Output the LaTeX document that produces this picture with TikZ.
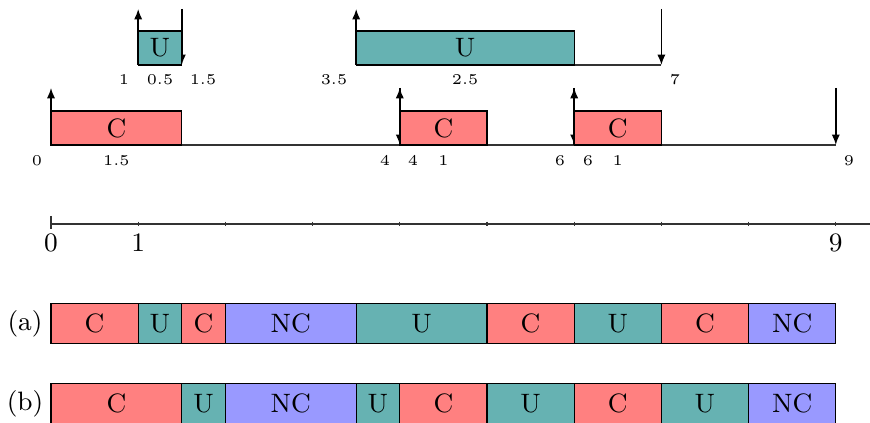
\documentclass[tikz,border=0pt]{standalone}
\usetikzlibrary{arrows.meta}
\definecolor{cC}{RGB}{255,128,128}
\definecolor{cU}{RGB}{102,178,178}
\definecolor{cN}{RGB}{153,153,255}
\begin{document}
\begin{tikzpicture}[x={(1.0023cm,0)}, y={(0,-0.0114943cm)},
  lab/.style={font=\fontsize{4.9}{6}\selectfont, inner sep=0},
  big/.style={font=\fontsize{8.7}{10}\selectfont, inner sep=0},
  arr/.style={-{Latex[length=3.4pt,width=2.7pt]}, line width=0.5pt},
  baseln/.style={line width=0.4pt, black!80},
  C/.style={draw, fill=cC, line width=0.4pt},
  U/.style={draw, fill=cU, line width=0.4pt},
  NC/.style={draw, fill=cN, line width=0.4pt}]
\useasboundingbox (-0.58486,0) rectangle (9.3922,423);

% ---- U row ----
\draw[baseln] (1,65) -- (1.5,65);
\draw[baseln] (3.5,65) -- (7,65);
\draw[arr] (1.5,9) -- (1.5,65);
\draw[arr] (7,9) -- (7,65);
\draw[U] (1,31) rectangle (1.5,65);
\node[big] (u1) at (1.25,48) {U};
\draw[U] (3.5,31) rectangle (6,65);
\node[big] (u2) at (4.75,48) {U};
\draw[arr] (1,65) -- (1,9);
\draw[arr] (3.5,65) -- (3.5,9);
\node[lab] (l1) at (0.8372,80) {1};
\node[lab] (l2) at (1.25,80) {0.5};
\node[lab] (l3) at (1.7431,80) {1.5};
\node[lab] (l4) at (3.2454,80) {3.5};
\node[lab] (l5) at (4.75,80) {2.5};
\node[lab] (l6) at (7.156,80) {7};

% ---- C row ----
\draw[baseln] (0,145) -- (9,145);
\draw[arr] (4,88) -- (4,145);
\draw[arr] (6,88) -- (6,145);
\draw[arr] (9,88) -- (9,145);
\draw[C] (0,111) rectangle (1.5,145);
\node[big] (c1) at (0.75,128) {C};
\draw[C] (4,111) rectangle (5,145);
\node[big] (c2) at (4.5,128) {C};
\draw[C] (6,111) rectangle (7,145);
\node[big] (c3) at (6.5,128) {C};
\draw[arr] (0,145) -- (0,88);
\draw[arr] (4,145) -- (4,88);
\draw[arr] (6,145) -- (6,88);
\node[lab] (m1) at (-0.1606,161) {0};
\node[lab] (m2) at (0.75,161) {1.5};
\node[lab] (m3) at (3.830,161) {4};
\node[lab] (m4) at (4.151,161) {4};
\node[lab] (m5) at (4.5,161) {1};
\node[lab] (m6) at (5.837,161) {6};
\node[lab] (m7) at (6.158,161) {6};
\node[lab] (m8) at (6.5,161) {1};
\node[lab] (m9) at (9.151,161) {9};

% ---- axis ----
\draw[baseln] (0,224) -- (9.3922,224);
\draw[baseln] (0,216) -- (0,229);
\foreach \i in {1,...,9} \draw[baseln] (\i,221.7) -- (\i,226.3);
\node[big] (t0) at (0,243) {0};
\node[big] (t1) at (1,243) {1};
\node[big] (t9) at (9,243) {9};

% ---- schedules ----
\node[big] (la) at (-0.298,324) {(a)};
\foreach \a/\b/\s [count=\i] in {0/1/C, 1/1.5/U, 1.5/2/C, 2/3.5/NC, 3.5/5/U, 5/6/C, 6/7/U, 7/8/C, 8/9/NC}{
  \draw[\s] (\a,304) rectangle (\b,344);
  \node[big] (a\i) at ({(\a+\b)/2},324) {\s};
}
\node[big] (lb) at (-0.298,404) {(b)};
\foreach \a/\b/\s [count=\i] in {0/1.5/C, 1.5/2/U, 2/3.5/NC, 3.5/4/U, 4/5/C, 5/6/U, 6/7/C, 7/8/U, 8/9/NC}{
  \draw[\s] (\a,384) rectangle (\b,424);
  \node[big] (b\i) at ({(\a+\b)/2},404) {\s};
}
\end{tikzpicture}
\end{document}
